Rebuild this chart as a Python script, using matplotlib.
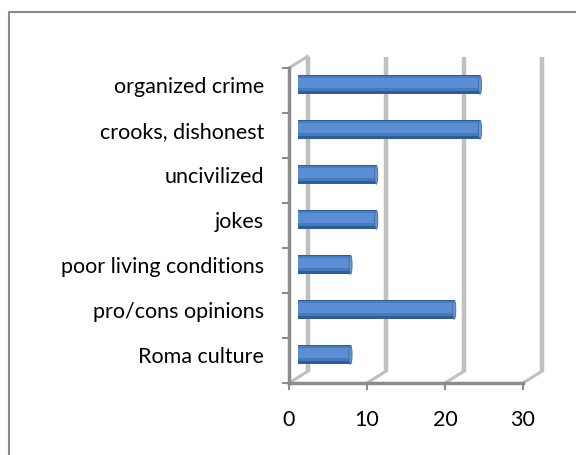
import numpy as np
import matplotlib
matplotlib.use("Agg")
from matplotlib import pyplot as plt
from matplotlib.patches import Ellipse, Rectangle

# data, bottom to top as drawn
categories = ["Roma culture", "pro/cons opinions", "poor living conditions",
              "jokes", "uncivilized", "crooks, dishonest", "organized crime"]
values = [6.7, 20.0, 6.7, 10.0, 10.0, 23.3, 23.3]
xticks = [0, 10, 20, 30]

plt.rcParams['font.family'] = ['Lato', 'DejaVu Sans']

W, H = 576, 455
fig = plt.figure(figsize=(W / 100, H / 100), dpi=100)

# front plane of the 3d box in pixels
x0, x1 = 289, 523
y_bot, y_top = 383, 68
ax = fig.add_axes([x0 / W, (H - y_bot) / H, (x1 - x0) / W, (y_bot - y_top) / H])
ax.set_xlim(0, 30)
ax.set_ylim(-0.5, len(categories) - 0.5)

# depth offset (back wall vs front), in data units
px_x = (x1 - x0) / 30.0
px_y = (y_bot - y_top) / len(categories)
dx = 18.5 / px_x
dy = 11.5 / px_y

wall = '#c0c0c0'
axis_c = '#8c8c8c'
ylo, yhi = -0.5, len(categories) - 0.5

# back wall gridlines + floor diagonals
for t in xticks:
    ax.plot([t + dx, t + dx], [ylo + dy, yhi + dy], color=wall, lw=3.2,
            clip_on=False, zorder=1, solid_capstyle='butt')
    ax.plot([t, t + dx], [ylo, ylo + dy], color=wall, lw=2.2,
            clip_on=False, zorder=1)
# left wall top edge
ax.plot([0, dx], [yhi, yhi + dy], color=wall, lw=2.2, clip_on=False, zorder=1)

# cylinders at mid depth
ys = np.arange(len(categories)) + dy / 2
h = 0.42
left = dx / 2
v = np.array(values)
ax.barh(ys, v, height=h, left=left, color='#2f5d9a', zorder=3, clip_on=False)
ax.barh(ys + h * 0.06, v, height=h * 0.82, left=left, color='#4679be', zorder=3, clip_on=False)
ax.barh(ys + h * 0.1, v, height=h * 0.56, left=left, color='#5a8fd6', zorder=3, clip_on=False)
ax.barh(ys + h * 0.4, v, height=h * 0.08, left=left, color='#4a7dc0', zorder=3, clip_on=False)
for y, val in zip(ys, values):
    ax.add_patch(Ellipse((left + val, y), 0.4, h, facecolor='#6f96c8',
                         edgecolor='#3d6aa5', lw=0.6, zorder=4, clip_on=False))

# axes
for s in ['top', 'right']:
    ax.spines[s].set_visible(False)
ax.spines['left'].set_color(axis_c)
ax.spines['bottom'].set_color(axis_c)
ax.spines['left'].set_linewidth(2.5)
ax.spines['bottom'].set_linewidth(2.5)
ax.set_facecolor('none')

ax.set_xticks(xticks)
ax.set_xticklabels([str(t) for t in xticks])
ax.set_yticks(np.arange(-0.5, len(categories)))
ax.set_yticklabels([])
ax.set_yticks(ys, minor=True)
ax.set_yticklabels(categories, minor=True)
ax.tick_params(axis='x', length=5, width=1.5, color=axis_c, pad=14.5, labelsize=15.5)
ax.tick_params(axis='y', which='major', length=5, width=1.5, color=axis_c)
ax.tick_params(axis='y', which='minor', length=0, pad=18, labelsize=15.5)

# outer chart frame (only top and left visible)
fig.patches.append(Rectangle((8.5 / W, -0.1), 1.2, (H - 12) / H + 0.1,
                             transform=fig.transFigure, fill=False,
                             edgecolor='#8a8a8a', lw=1.5))

fig.savefig("out.png", dpi=100)
